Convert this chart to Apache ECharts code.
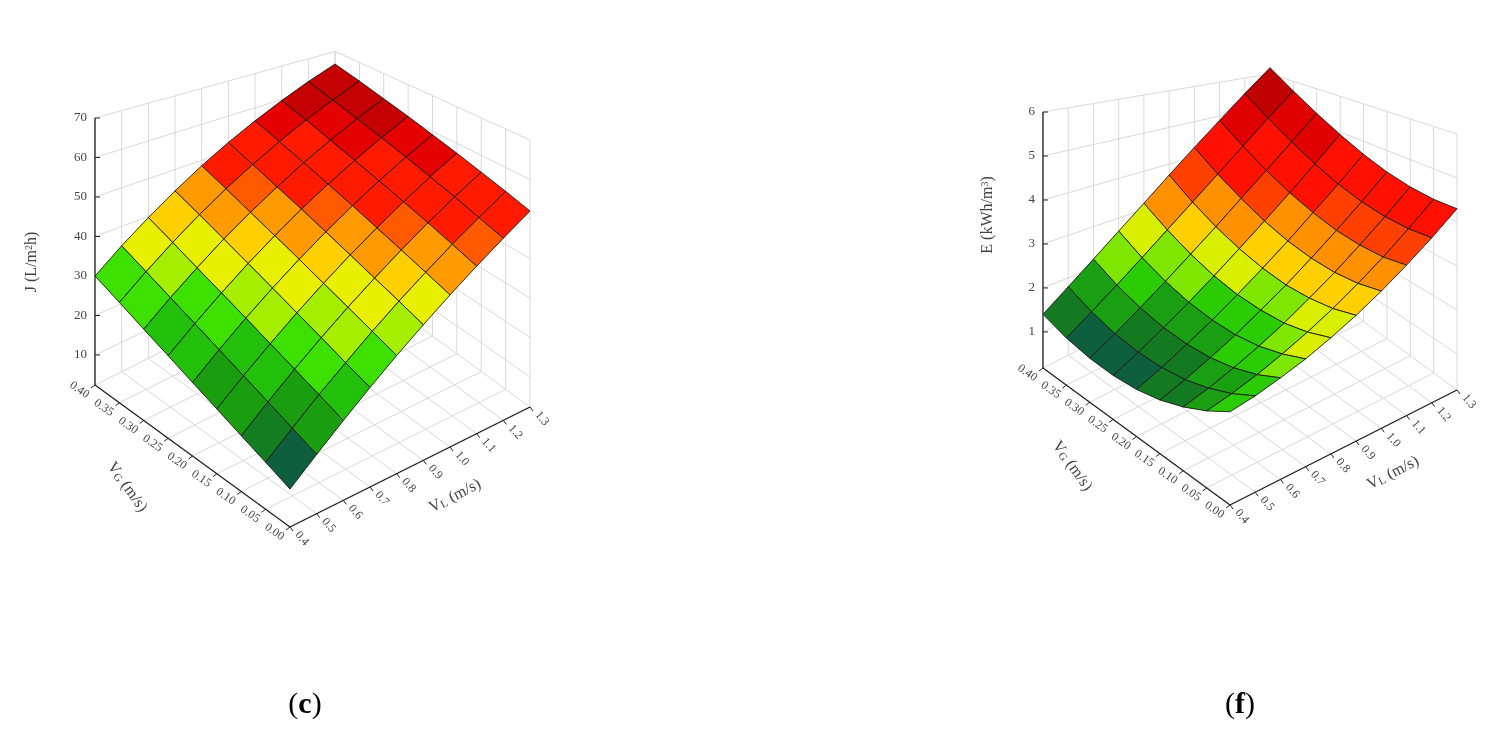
<!DOCTYPE html>
<html><head><meta charset="utf-8">
<script src="https://cdn.jsdelivr.net/npm/echarts@6/dist/echarts.min.js"></script>
<style>html,body{margin:0;padding:0;background:#fff}#c{width:1506px;height:734px}</style>
</head><body><div id="c"></div>
<script>
const VL = [0.4,0.5,0.6,0.7,0.8,0.9,1.0,1.1,1.2,1.3];
const VG = [0.00,0.05,0.10,0.15,0.20,0.25,0.30,0.35,0.40];
// J (L/m2h): rows = VG, columns = VL
const J = [
 [12.0,17.4,22.6,27.6,32.3,36.7,40.9,44.8,48.5,52.0],
 [14.3,19.6,24.8,29.6,34.3,38.7,42.8,46.7,50.3,53.8],
 [16.5,21.8,26.9,31.7,36.3,40.6,44.7,48.6,52.2,55.5],
 [18.8,24.0,29.0,33.8,38.3,42.6,46.6,50.4,54.0,57.3],
 [21.0,26.2,31.2,35.9,40.4,44.6,48.6,52.3,55.8,59.0],
 [23.3,28.4,33.3,38.0,42.4,46.6,50.5,54.1,57.6,60.8],
 [25.5,30.6,35.4,40.1,44.4,48.5,52.4,56.0,59.4,62.5],
 [27.8,32.8,37.6,42.2,46.5,50.5,54.3,57.9,61.2,64.3],
 [30.0,35.0,39.7,44.2,48.5,52.5,56.2,59.7,63.0,66.0]
];
// E (kWh/m3): rows = VG, columns = VL
const E = [
 [2.30,2.37,2.49,2.63,2.82,3.04,3.30,3.60,3.93,4.30],
 [1.93,2.04,2.19,2.38,2.60,2.86,3.16,3.49,3.87,4.28],
 [1.63,1.78,1.97,2.19,2.45,2.76,3.09,3.47,3.88,4.33],
 [1.40,1.59,1.82,2.08,2.39,2.72,3.10,3.51,3.96,4.45],
 [1.25,1.48,1.75,2.05,2.39,2.77,3.18,3.64,4.12,4.65],
 [1.18,1.44,1.75,2.09,2.47,2.89,3.34,3.83,4.36,4.93],
 [1.18,1.48,1.83,2.21,2.63,3.08,3.58,4.10,4.67,5.28],
 [1.25,1.60,1.98,2.40,2.86,3.35,3.88,4.45,5.06,5.70],
 [1.40,1.79,2.21,2.67,3.16,3.70,4.27,4.87,5.52,6.20]
];
const VL_LABELS = ['0.4','0.5','0.6','0.7','0.8','0.9','1.0','1.1','1.2','1.3'];
const VG_LABELS = ['0.00','0.05','0.10','0.15','0.20','0.25','0.30','0.35','0.40'];
const J_TICKS = [10,20,30,40,50,60,70];
const E_TICKS = [1,2,3,4,5,6];

const J_BANDS = [16,20,24,28,32,36,40,43,46,49,56,60,64];
const J_COLS = ['#0d5f3e','#137d22','#1a9e10','#22c00a','#3ee000','#a6ee00','#e8f000','#ffd000','#ff9a00','#ff5a00','#ff1a00','#e40000','#c40000','#a20000'];
const E_BANDS = [1.4,1.7,2.0,2.3,2.6,2.9,3.2,3.5,3.9,4.7,5.3,5.8];
const E_COLS = ['#0d5f3e','#137a22','#1a9e12','#2ccc05','#7ee600','#d8f000','#ffd000','#ff9000','#ff4000','#ff1000','#e00000','#c00000','#a00000'];

const panels = [
 {data:J, zTicks:J_TICKS, bands:J_BANDS, cols:J_COLS, front:[290,527], U:[240,-120], V:[-195,-142], H:267, zmin:2.4, zmax:70, persp:0.2,
  zTitle:'{n|J (L/m}{p|2}{n|h)}', zTitlePos:[32,262], vlTitlePos:[455,496], vgTitlePos:[127,487], label:'(c)', labelPos:[305,705]},
 {data:E, zTicks:E_TICKS, bands:E_BANDS, cols:E_COLS, front:[1230,505], U:[227,-115], V:[-187,-137], H:256, zmin:0.18, zmax:6, persp:0.3,
  zTitle:'{n|E (kWh/m}{p|3}{n|)}', zTitlePos:[988,215], vlTitlePos:[1393,473], vgTitlePos:[1072,466], label:'(f)', labelPos:[1240,705]}
];

function colorFor(p, z){ let i=0; while(i<p.bands.length && z>=p.bands[i]) i++; return p.cols[i]; }

function renderItem(params, api){
  const ch = [];
  const FONT = '"Liberation Serif", "DejaVu Serif", serif';
  panels.forEach(p=>{
    const P = (u,v,z)=>{ const w=(z-p.zmin)/(p.zmax-p.zmin)*(1-p.persp*u*v);
      return api.coord([p.front[0]+u*p.U[0]+v*p.V[0], p.front[1]+u*p.U[1]+v*p.V[1]-w*p.H]); };
    const uOf = x=>(x-VL[0])/(VL[VL.length-1]-VL[0]);
    const vOf = x=>(x-VG[0])/(VG[VG.length-1]-VG[0]);
    const zTop = p.zTicks[p.zTicks.length-1];
    const line=(a,b,c,w)=>ch.push({type:'line',shape:{x1:a[0],y1:a[1],x2:b[0],y2:b[1]},style:{stroke:c||'#d9d9d9',lineWidth:w||1},silent:true});
    ch.push({type:'polygon',shape:{points:[P(0,0,p.zmin),P(1,0,p.zmin),P(1,1,p.zmin),P(0,1,p.zmin)]},style:{fill:'#fff'}});
    VL.forEach(x=>{const u=uOf(x); line(P(u,0,p.zmin),P(u,1,p.zmin)); line(P(u,1,p.zmin),P(u,1,zTop));});
    VG.forEach(y=>{const v=vOf(y); line(P(0,v,p.zmin),P(1,v,p.zmin)); line(P(1,v,p.zmin),P(1,v,zTop));});
    p.zTicks.forEach(z=>{ line(P(0,1,z),P(1,1,z)); line(P(1,1,z),P(1,0,z)); });
    line(P(0,0,p.zmin),P(1,0,p.zmin),'#222',1.3);
    line(P(0,0,p.zmin),P(0,1,p.zmin),'#222',1.3);
    line(P(0,1,p.zmin),P(0,1,zTop),'#222',1.3);
    const tstyle = {fill:'#444', fontFamily:FONT, fontSize:12};
    VL.forEach((x,i)=>{const a=P(uOf(x),0,p.zmin); line(a,[a[0]+3,a[1]+4],'#222',1);
      ch.push({type:'text',x:a[0]+7,y:a[1]+6,rotation:-0.85,style:Object.assign({text:VL_LABELS[i],align:'left',verticalAlign:'middle'},tstyle)});});
    VG.forEach((y,i)=>{const a=P(0,vOf(y),p.zmin); line(a,[a[0]-4,a[1]+3],'#222',1);
      ch.push({type:'text',x:a[0]-7,y:a[1]+11,rotation:-0.6,style:Object.assign({text:VG_LABELS[i],align:'right',verticalAlign:'middle'},tstyle)});});
    p.zTicks.forEach(z=>{const a=P(0,1,z); line(a,[a[0]+5,a[1]],'#222',1);
      ch.push({type:'text',x:a[0]-8,y:a[1],style:Object.assign({text:String(z),align:'right',verticalAlign:'middle'},tstyle,{fontSize:13})});});
    const rich = {n:{fontFamily:FONT,fontSize:16,fill:'#444'}, p:{fontFamily:FONT,fontSize:10,fill:'#444',verticalAlign:'top',lineHeight:14}, s:{fontFamily:FONT,fontSize:11,fill:'#444',verticalAlign:'bottom',lineHeight:12}};
    let t=api.coord(p.zTitlePos); ch.push({type:'text',x:t[0],y:t[1],rotation:Math.PI/2,style:{text:p.zTitle,rich,align:'center',verticalAlign:'middle',fontFamily:FONT,fontSize:16,fill:'#444'}});
    t=api.coord(p.vlTitlePos); ch.push({type:'text',x:t[0],y:t[1],rotation:0.47,style:{text:'{n|V}{s|L}{n| (m/s)}',rich,align:'center',verticalAlign:'middle'}});
    t=api.coord(p.vgTitlePos); ch.push({type:'text',x:t[0],y:t[1],rotation:-0.95,style:{text:'{n|V}{s|G}{n| (m/s)}',rich,align:'center',verticalAlign:'middle'}});
    t=api.coord(p.labelPos); ch.push({type:'text',x:t[0],y:t[1],style:{text:p.label==='(c)'?'{a|(}{b|c}{a|)}':'{a|(}{b|f}{a|)}',rich:{a:{fontFamily:FONT,fontSize:30,fill:'#000'},b:{fontFamily:FONT,fontSize:30,fontWeight:'bold',fill:'#000'}},align:'center',verticalAlign:'middle'}});
    const cells=[];
    for(let k=0;k<VG.length-1;k++) for(let i=0;i<VL.length-1;i++) cells.push([k,i]);
    cells.sort((a,b)=>(b[0]+b[1])-(a[0]+a[1]));
    cells.forEach(([k,i])=>{
      const d=p.data, u0=uOf(VL[i]),u1=uOf(VL[i+1]),v0=vOf(VG[k]),v1=vOf(VG[k+1]);
      const zc=(d[k][i]+d[k][i+1]+d[k+1][i]+d[k+1][i+1])/4;
      ch.push({type:'polygon',shape:{points:[P(u0,v0,d[k][i]),P(u1,v0,d[k][i+1]),P(u1,v1,d[k+1][i+1]),P(u0,v1,d[k+1][i])]},
        style:{fill:colorFor(p,zc),stroke:'#1a1a1a',lineWidth:0.9,lineJoin:'round'}});
    });
  });
  return {type:'group',children:ch};
}

const chart = echarts.init(document.getElementById('c'));
chart.setOption({
  animation:false,
  grid:{left:0,right:0,top:0,bottom:0},
  xAxis:{type:'value',min:0,max:1506,show:false},
  yAxis:{type:'value',min:0,max:734,inverse:true,show:false},
  series:[{type:'custom',renderItem,data:[[0,0]],clip:false}]
});
</script></body></html>
